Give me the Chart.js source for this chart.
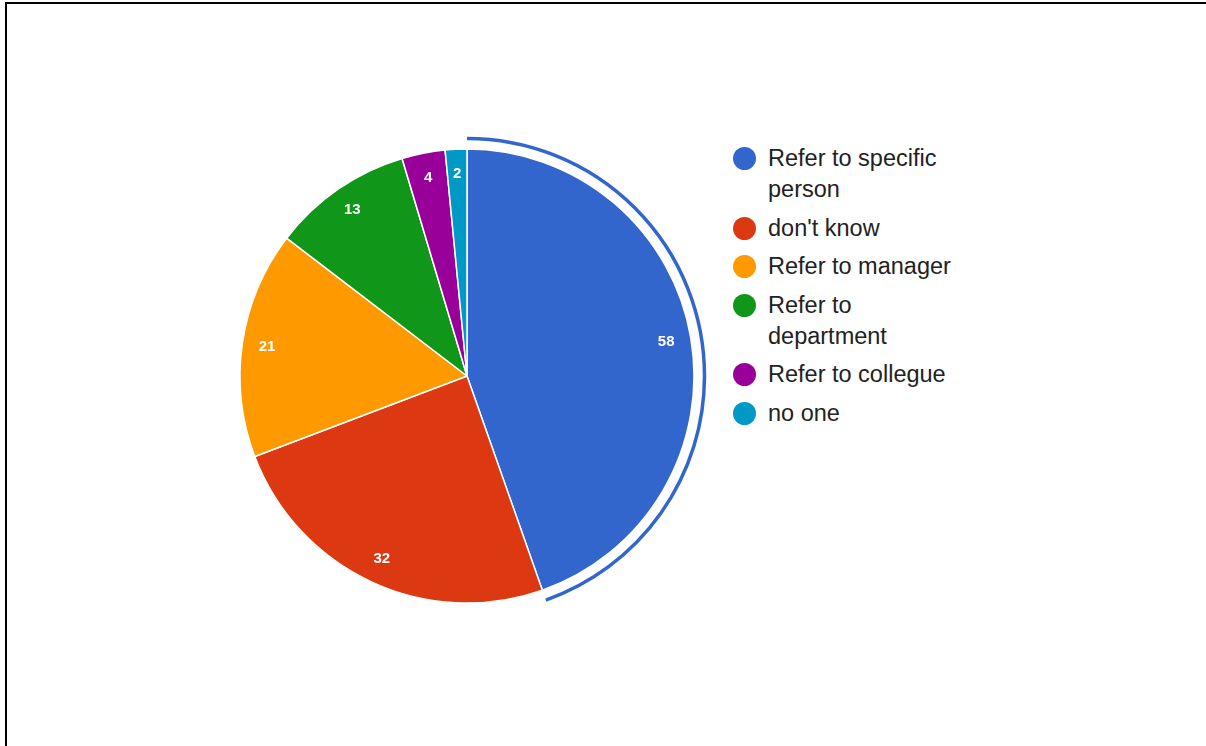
<!DOCTYPE html>
<html>
<head>
<meta charset="utf-8">
<script src="https://cdn.jsdelivr.net/npm/chart.js@4"></script>
<style>
    html, body { margin: 0; padding: 0; background: #fff; overflow: hidden; }
    body { width: 1206px; height: 746px; position: relative; font-family: "Liberation Sans", Arial, sans-serif; }
    #frame { position: absolute; left: 5px; top: 2px; width: 1300px; height: 800px; border-top: 2px solid #000; border-left: 2px solid #000; }
    #pie-box { position: absolute; left: 227px; top: 136px; width: 480px; height: 480px; }
    #legend { position: absolute; left: 733px; top: 143px; }
    .item { display: flex; align-items: flex-start; margin-bottom: 7.5px; }
    .dot { width: 23px; height: 23px; border-radius: 50%; margin-top: 4px; margin-right: 12px; flex: none; }
    .txt { font-size: 23.5px; line-height: 31px; color: #222; max-width: 192px; }
</style>
</head>
<body>
<div id="frame"></div>
<div id="pie-box"><canvas id="pie-chart"></canvas></div>
<div id="legend"></div>
<script>
const categories = ['Refer to specific person', "don't know", 'Refer to manager', 'Refer to department', 'Refer to collegue', 'no one'];
const counts = [58, 32, 21, 13, 4, 2];
const colors = ['#3366cc', '#dc3912', '#ff9900', '#109618', '#990099', '#0099c6'];

document.addEventListener('DOMContentLoaded', function() {
    buildLegend();
    createPieChart();
});

function buildLegend() {
    const legend = document.getElementById('legend');
    categories.forEach((name, i) => {
        const item = document.createElement('div');
        item.className = 'item';
        item.innerHTML = `<span class="dot" style="background:${colors[i]}"></span><span class="txt">${name}</span>`;
        legend.appendChild(item);
    });
}

// white count labels inside each slice
const sliceLabels = {
    id: 'sliceLabels',
    afterDatasetsDraw(chart) {
        const ctx = chart.ctx;
        const meta = chart.getDatasetMeta(0);
        ctx.save();
        ctx.fillStyle = '#fff';
        ctx.font = 'bold 15px "Liberation Sans", Arial, sans-serif';
        ctx.textAlign = 'center';
        ctx.textBaseline = 'middle';
        meta.data.forEach((arc, i) => {
            const p = arc.getProps(['x', 'y', 'startAngle', 'endAngle', 'outerRadius'], true);
            const mid = (p.startAngle + p.endAngle) / 2;
            const r = p.outerRadius * 0.89;
            ctx.fillText(String(counts[i]), p.x + Math.cos(mid) * r, p.y + Math.sin(mid) * r);
        });
        ctx.restore();
    }
};

// outline ring around the selected (first) slice
const selectedRing = {
    id: 'selectedRing',
    afterDatasetsDraw(chart) {
        const ctx = chart.ctx;
        const arc = chart.getDatasetMeta(0).data[0];
        const p = arc.getProps(['x', 'y', 'startAngle', 'endAngle', 'outerRadius'], true);
        ctx.save();
        ctx.strokeStyle = colors[0];
        ctx.lineWidth = 3.5;
        ctx.beginPath();
        ctx.arc(p.x, p.y, p.outerRadius + 10.5, p.startAngle, p.endAngle);
        ctx.stroke();
        ctx.restore();
    }
};

function createPieChart() {
    const ctx = document.getElementById('pie-chart').getContext('2d');
    new Chart(ctx, {
        type: 'pie',
        data: {
            labels: categories,
            datasets: [{
                data: counts,
                backgroundColor: colors,
                borderColor: '#fff',
                borderWidth: 1.5,
                radius: 227
            }]
        },
        options: {
            responsive: true,
            maintainAspectRatio: false,
            animation: false,
            plugins: {
                legend: { display: false },
                tooltip: { enabled: false }
            }
        },
        plugins: [sliceLabels, selectedRing]
    });
}
</script>
</body>
</html>
